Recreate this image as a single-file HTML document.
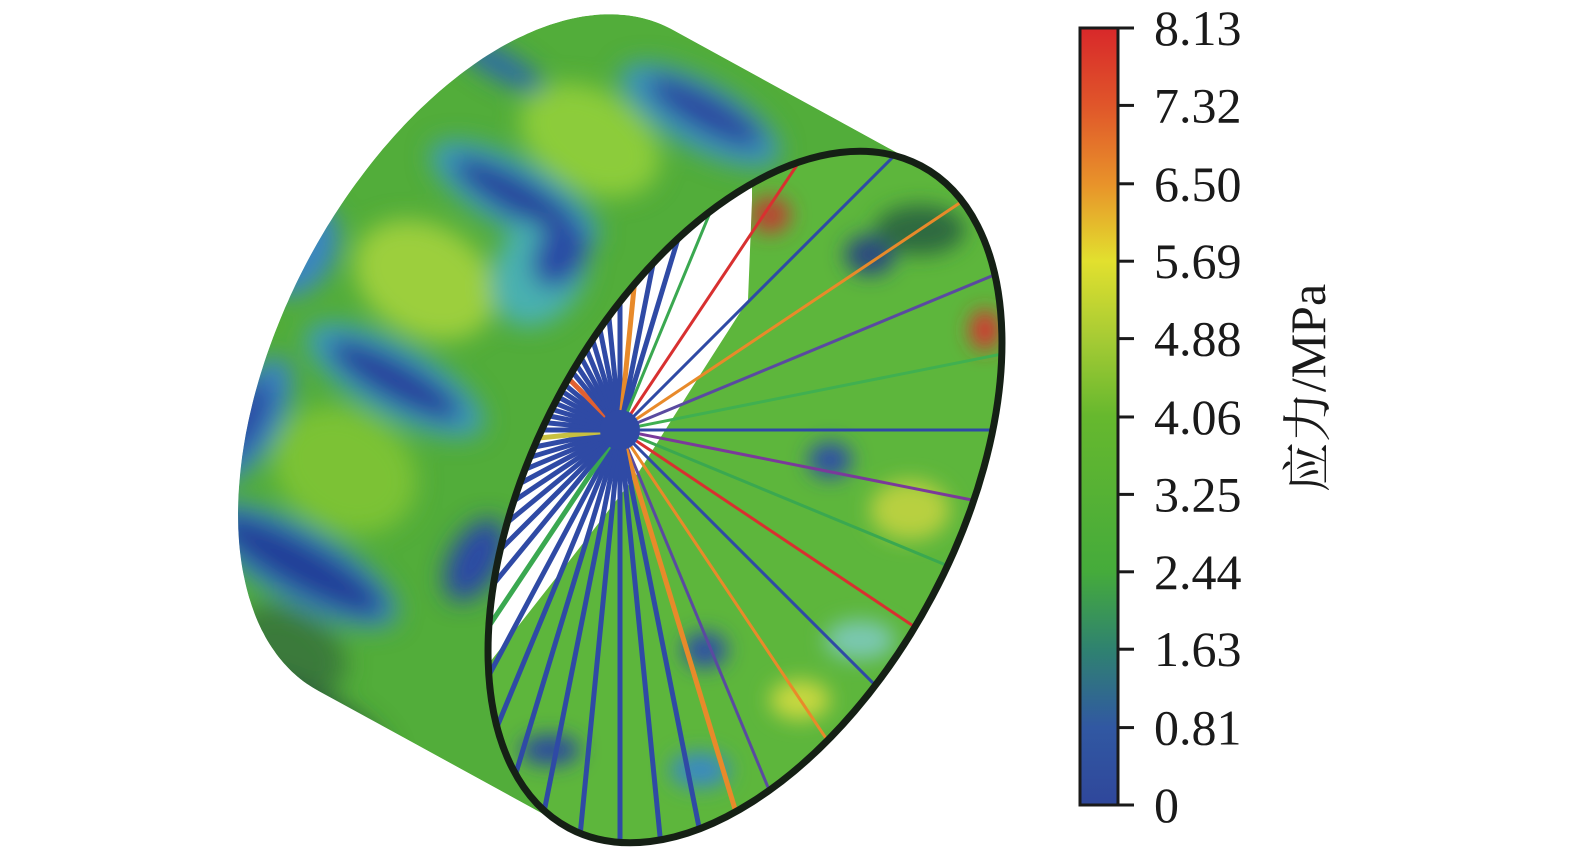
<!DOCTYPE html>
<html><head><meta charset="utf-8">
<style>
html,body{margin:0;padding:0;background:#fff;width:1575px;height:848px;overflow:hidden;}
svg{display:block;overflow:hidden;}
text{font-family:"Liberation Serif","Noto Serif CJK SC",serif;}
</style></head>
<body>
<svg id="fig" width="1575" height="848" viewBox="0 0 1575 848" xmlns="http://www.w3.org/2000/svg">
<defs>
  <linearGradient id="cbar" x1="0" y1="1" x2="0" y2="0">
    <stop offset="0" stop-color="#2f479b"/>
    <stop offset="0.1" stop-color="#3158a2"/>
    <stop offset="0.2" stop-color="#2f8270"/>
    <stop offset="0.3" stop-color="#45ab3b"/>
    <stop offset="0.5" stop-color="#66b82e"/>
    <stop offset="0.6" stop-color="#a6cb34"/>
    <stop offset="0.7" stop-color="#e2e02e"/>
    <stop offset="0.8" stop-color="#e8922a"/>
    <stop offset="0.9" stop-color="#e0562a"/>
    <stop offset="1" stop-color="#d8282a"/>
  </linearGradient>
  <filter id="blur18" x="-50%" y="-50%" width="200%" height="200%"><feGaussianBlur stdDeviation="12"/></filter>
  <filter id="blur10" x="-50%" y="-50%" width="200%" height="200%"><feGaussianBlur stdDeviation="10"/></filter>
  <clipPath id="bodyClip"><path id="bodyClipPath"/></clipPath>
  <clipPath id="frontClip"><ellipse id="frontClipE"/></clipPath>
</defs>
<g id="cyl"></g>
<g id="cb"></g>
</svg>
<script>
const NS="http://www.w3.org/2000/svg";
// colorbar data
const tickLabels=["0","0.81","1.63","2.44","3.25","4.06","4.88","5.69","6.50","7.32","8.13"];
const tickValues=[0,0.81,1.63,2.44,3.25,4.06,4.88,5.69,6.50,7.32,8.13];
const vMin=0, vMax=8.13;
const barTop=28, barBot=805, barX=1080, barW=38;
function yScale(v){return barBot-(v-vMin)/(vMax-vMin)*(barBot-barTop);}
function mk(tag,attrs,parent){const e=document.createElementNS(NS,tag);for(const k in attrs)e.setAttribute(k,attrs[k]);parent.appendChild(e);return e;}

const cb=document.getElementById('cb');
const bar=mk('rect',{x:barX,y:barTop,width:barW,height:barBot-barTop,fill:'url(#cbar)',stroke:'#1a1a1a','stroke-width':3},cb);


tickValues.forEach((v,i)=>{
  const y=yScale(v);
  const t=mk('line',{x1:barX+barW,x2:barX+barW+16,y1:y,y2:y,stroke:'#1a1a1a','stroke-width':3},cb);
  
  
  const tx=mk('text',{x:1154,y:y+17,'font-size':50,fill:'#1a1a1a','font-family':'Liberation Serif, serif'},cb);
  tx.textContent=tickLabels[i];
  
  
});
const title=mk('text',{x:0,y:0,'font-size':50,fill:'#1a1a1a','text-anchor':'middle',transform:'translate(1325,388) rotate(-90)'},cb);
title.textContent='应力/MPa';



// cylinder geometry
const C={x:745,y:497}, A=375, B=212, rot=-62*Math.PI/180;
const off={x:-250,y:-137};
const u={x:Math.cos(rot),y:Math.sin(rot)}, w={x:-Math.sin(rot),y:Math.cos(rot)};
function P(t,o){o=o||{x:0,y:0};return {x:C.x+A*Math.cos(t)*u.x+B*Math.sin(t)*w.x+o.x,y:C.y+A*Math.cos(t)*u.y+B*Math.sin(t)*w.y+o.y};}
let pts=[];for(let i=0;i<360;i++){const t=i/360*2*Math.PI;pts.push(P(t));pts.push(P(t,off));}
pts.sort((a,b)=>a.x-b.x||a.y-b.y);
function cr(o,a,b){return (a.x-o.x)*(b.y-o.y)-(a.y-o.y)*(b.x-o.x);}
const lo=[],hi=[];
for(const p of pts){while(lo.length>=2&&cr(lo[lo.length-2],lo[lo.length-1],p)<=0)lo.pop();lo.push(p);}
for(let i=pts.length-1;i>=0;i--){const p=pts[i];while(hi.length>=2&&cr(hi[hi.length-2],hi[hi.length-1],p)<=0)hi.pop();hi.push(p);}
const hull=lo.slice(0,-1).concat(hi.slice(0,-1));
const hullD='M'+hull.map(p=>p.x.toFixed(1)+','+p.y.toFixed(1)).join('L')+'Z';
document.getElementById('bodyClipPath').setAttribute('d',hullD);
const deg=rot*180/Math.PI;
const fce=document.getElementById('frontClipE');
fce.setAttribute('cx',C.x);fce.setAttribute('cy',C.y);fce.setAttribute('rx',A);fce.setAttribute('ry',B);fce.setAttribute('transform',`rotate(${deg} ${C.x} ${C.y})`);

const cyl=document.getElementById('cyl');
const outer=mk('g',{'clip-path':'url(#bodyClip)'},cyl);


mk('path',{d:hullD,fill:'#52ad3a'},outer);
const blobs=mk('g',{filter:'url(#blur18)'},outer);
// light green patches
[[590,140,75,50,'#8ccc3a'],[425,280,75,55,'#9ccf3e'],[345,470,75,60,'#7cc235'],[290,650,60,40,'#3a7a3a']].forEach(b=>{
  mk('ellipse',{cx:b[0],cy:b[1],rx:b[2],ry:b[3],fill:b[4],transform:`rotate(29 ${b[0]} ${b[1]})`},blobs);});
// cyan halos then blue bands along axis
[[515,195,95,34,'#3c9cb8'],[395,380,100,36,'#3c9cb8'],[300,565,110,38,'#3a8cb8'],[700,115,90,34,'#3c96b8'],[540,270,45,60,'#48b0b0'],[250,420,30,70,'#3a86c0'],[300,250,35,50,'#3a86c0']].forEach(b=>{
  mk('ellipse',{cx:b[0],cy:b[1],rx:b[2],ry:b[3],fill:b[4],transform:`rotate(29 ${b[0]} ${b[1]})`},blobs);});
[[515,195,70,18,'#263f9c'],[705,112,65,18,'#2a45a0'],[395,380,75,20,'#253f9c'],[300,565,95,24,'#243e98'],[265,250,22,30,'#2a4aa5'],[500,65,50,14,'#2f6aa8'],[245,420,18,45,'#2a4aa5'],[310,720,90,30,'#2a5a3a'],[560,255,25,35,'#2a4aa5'],[475,560,25,45,'#2a4aa5']].forEach(b=>{
  mk('ellipse',{cx:b[0],cy:b[1],rx:b[2],ry:b[3],fill:b[4],transform:`rotate(29 ${b[0]} ${b[1]})`},blobs);});

// inner face
const inner=mk('g',{'clip-path':'url(#frontClip)'},cyl);


mk('ellipse',{cx:C.x,cy:C.y,rx:A,ry:B,transform:`rotate(${deg} ${C.x} ${C.y})`,fill:'#5db63c'},inner);
const ib=mk('g',{filter:'url(#blur10)'},inner);
[[830,460,22,18,'#2f4fa5'],[705,650,22,18,'#2f4fa5'],[870,255,25,20,'#2b4a80'],[985,330,15,20,'#d83030'],[550,750,30,15,'#2b4aa0'],[910,510,40,30,'#b8d040'],[800,700,30,20,'#c8d840'],[860,640,35,20,'#7ac8b0'],[920,230,45,25,'#2e6a40'],[700,770,30,18,'#3a8ac0'],[770,215,20,18,'#c04030']].forEach(b=>{
  mk('ellipse',{cx:b[0],cy:b[1],rx:b[2],ry:b[3],fill:b[4]},ib);});
const win=mk('path',{d:'M752,120 L752,200 L748,300 L700,375 L640,470 L570,560 L490,662 L380,662 L380,120 Z',fill:'#ffffff'},inner);



// spokes
const hub={x:620,y:430};
const spokeColors=['#2f4aa5','#7a3a9a','#3aa850','#d83030','#2f4aa5','#e88a2a','#5a4aa0','#40b050','#e06030','#2f4aa5','#8a3a8a','#c8c040'];
const spokes=mk('g',{},inner);


const N=64;
for(let i=0;i<N;i++){
  const a=i/N*2*Math.PI;
  const ca=Math.cos(a), sa=Math.sin(a);
  const inWin=(ca*0.88-sa*0.47)<-0.1 ||(sa<-0.3&&ca<0.35);
  if(!inWin && i%2==1) continue;
  const L=900;
  const ex=hub.x+L*ca, ey=hub.y+L*sa;
  const col=inWin?(i%9==4?spokeColors[(i*5)%spokeColors.length]:'#2f4aa5'):spokeColors[(i/2)%spokeColors.length|0];
  const ln=mk('line',{x1:hub.x,y1:hub.y,x2:ex,y2:ey,stroke:col,'stroke-width':inWin?5:3},spokes);
  
  
}
const hc=mk('circle',{cx:hub.x,cy:hub.y,r:20,fill:'#2f4aa5'},inner);



const rim=mk('ellipse',{cx:C.x,cy:C.y,rx:A,ry:B,transform:`rotate(${deg} ${C.x} ${C.y})`,fill:'none',stroke:'#152015','stroke-width':7},cyl);


</script>
</body></html>
